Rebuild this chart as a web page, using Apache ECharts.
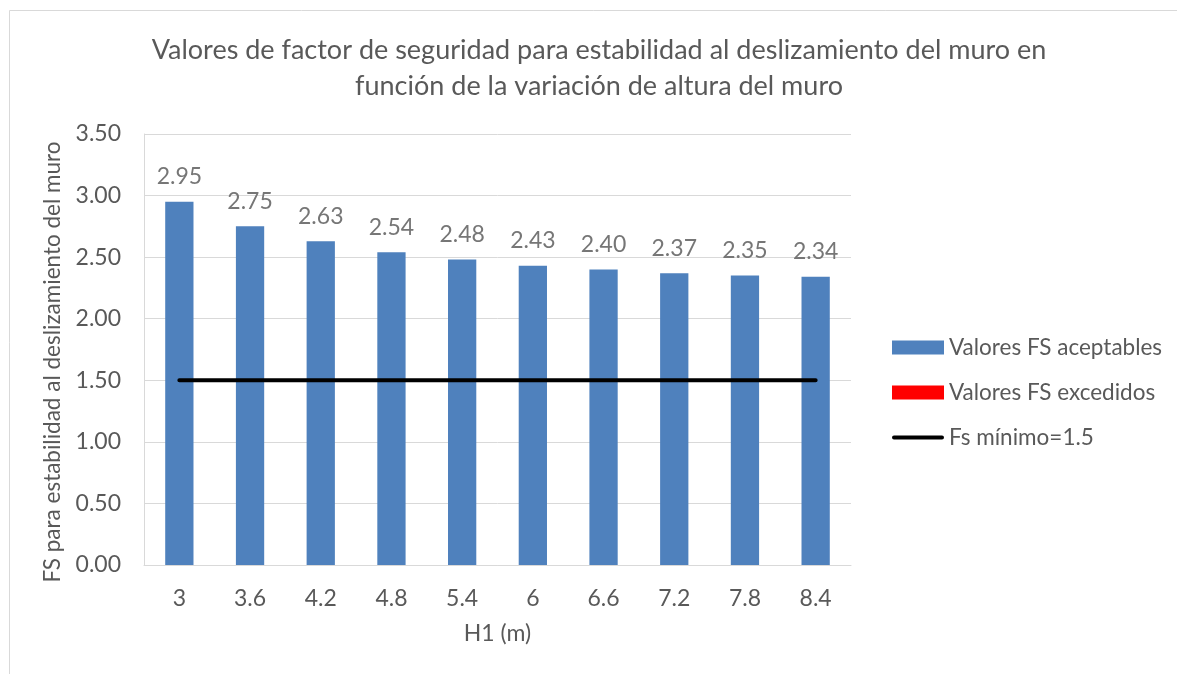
<!DOCTYPE html>
<html>
<head>
<meta charset="utf-8">
<title>Factor de seguridad al deslizamiento</title>
<script src="https://cdn.jsdelivr.net/npm/echarts@6/dist/echarts.min.js"></script>
<style>
  html, body { margin: 0; padding: 0; background: #ffffff; }
  #chart { width: 1177px; height: 674px; }
</style>
</head>
<body>
<div id="chart"></div>
<script>
// Alturas del muro H1 (m)
const alturas = ['3', '3.6', '4.2', '4.8', '5.4', '6', '6.6', '7.2', '7.8', '8.4'];
// Factor de seguridad al deslizamiento que cumple el mínimo
const fsAceptables = [2.95, 2.75, 2.63, 2.54, 2.48, 2.43, 2.40, 2.37, 2.35, 2.34];
// Factor de seguridad que no cumple (ninguno en este caso)
const fsExcedidos = [0, 0, 0, 0, 0, 0, 0, 0, 0, 0];
// Límite mínimo exigido
const fsMinimo = [1.5, 1.5, 1.5, 1.5, 1.5, 1.5, 1.5, 1.5, 1.5, 1.5];
// Marcas del eje vertical
const ejeY = { min: 0, max: 3.5, interval: 0.5 };

const FONT = 'Lato, "Open Sans", sans-serif';
const GRIS = '#595959';
const TAM = 23;

// Icono de leyenda para la línea: franja de 4 px con extremos redondeados,
// con dos puntos mínimos en las esquinas para que ocupe toda la caja 52x14
const ICONO_LINEA = 'path://M0,0L0.01,0L0.01,0.01Z' +
  'M2,5L50,5A2,2,0,0,1,50,9L2,9A2,2,0,0,1,2,5Z' +
  'M51.99,14L52,14L52,13.99Z';

const chart = echarts.init(document.getElementById('chart'), null, { renderer: 'canvas' });

chart.setOption({
  backgroundColor: '#ffffff',
  animation: false,
  textStyle: { fontFamily: FONT },
  graphic: [{
    type: 'rect',
    shape: { x: 9.5, y: 10.5, width: 1300, height: 800 },
    style: { fill: 'none', stroke: '#d9d9d9', lineWidth: 1 },
    silent: true
  }],
  title: {
    text: 'Valores de factor de seguridad para estabilidad al deslizamiento del muro en\nfunción de la variación de altura del muro',
    left: 599,
    textAlign: 'center',
    top: 32,
    padding: 0,
    textStyle: {
      fontFamily: FONT,
      fontSize: 27,
      fontWeight: 'normal',
      color: GRIS,
      lineHeight: 36
    }
  },
  legend: {
    orient: 'vertical',
    left: 892,
    top: 336,
    padding: 0,
    itemWidth: 52,
    itemHeight: 14,
    itemGap: 22,
    textStyle: { fontFamily: FONT, fontSize: 22.5, color: GRIS },
    data: [
      { name: 'Valores FS aceptables', icon: 'rect' },
      { name: 'Valores FS excedidos', icon: 'rect' },
      { name: 'Fs mínimo=1.5', icon: ICONO_LINEA }
    ]
  },
  grid: { left: 144, right: 326, top: 134, bottom: 109, containLabel: false },
  xAxis: {
    type: 'category',
    data: alturas,
    name: 'H1 (m)',
    nameLocation: 'middle',
    nameGap: 57,
    nameTextStyle: { fontFamily: FONT, fontSize: TAM, color: GRIS },
    axisLine: { lineStyle: { color: '#d9d9d9', width: 1 } },
    axisTick: { show: false },
    axisLabel: { fontFamily: FONT, fontSize: TAM, color: GRIS, margin: 22 }
  },
  yAxis: {
    type: 'value',
    min: ejeY.min,
    max: ejeY.max,
    interval: ejeY.interval,
    name: 'FS para estabilidad al deslizamiento del muro',
    nameLocation: 'middle',
    nameGap: 77,
    nameTextStyle: { fontFamily: FONT, fontSize: 22.5, color: GRIS, padding: [0, 25, 0, 0] },
    axisLine: { show: true, lineStyle: { color: '#d9d9d9', width: 1 } },
    axisTick: { show: false },
    splitLine: { lineStyle: { color: '#d9d9d9', width: 1 } },
    axisLabel: {
      fontFamily: FONT, fontSize: TAM, color: GRIS, margin: 23,
      formatter: v => v.toFixed(2)
    }
  },
  series: [
    {
      name: 'Valores FS aceptables',
      type: 'bar',
      stack: 'fs',
      barWidth: '40%',
      data: fsAceptables,
      itemStyle: { color: '#4f81bd' },
      label: {
        show: true,
        position: 'top',
        distance: 13.5,
        fontFamily: FONT,
        fontSize: TAM,
        color: '#767676',
        formatter: p => p.value.toFixed(2)
      }
    },
    {
      name: 'Valores FS excedidos',
      type: 'bar',
      stack: 'fs',
      barWidth: '40%',
      data: fsExcedidos,
      itemStyle: { color: '#ff0000' }
    },
    {
      name: 'Fs mínimo=1.5',
      type: 'line',
      data: fsMinimo,
      symbol: 'none',
      lineStyle: { color: '#000000', width: 4, cap: 'round' },
      itemStyle: { color: '#000000' },
      z: 5
    }
  ]
});
</script>
</body>
</html>
